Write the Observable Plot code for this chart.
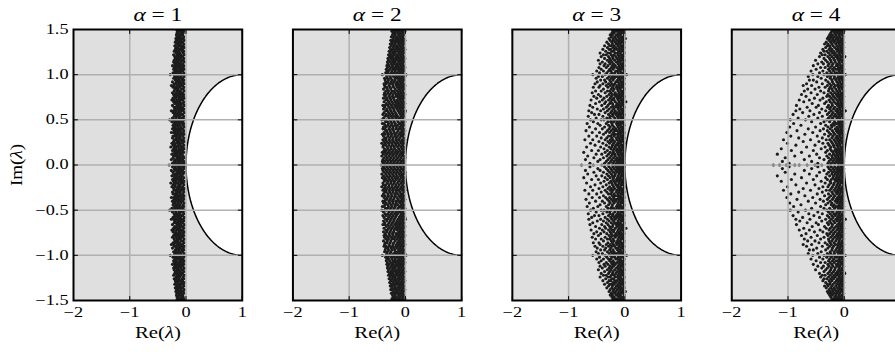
<!DOCTYPE html>
<html>
<head>
<meta charset="utf-8">
<script src="https://cdn.jsdelivr.net/npm/d3@7"></script>
<script src="https://cdn.jsdelivr.net/npm/@observablehq/plot@0.6"></script>
<style>
  html, body { margin: 0; padding: 0; background: #fff; overflow: hidden; }
  #chart svg { display: block; max-width: none; }
</style>
</head>
<body>
<div id="chart"></div>
<script>
// Panels, one per value of alpha
const alphas = [1, 2, 3, 4];
const xTicks = [-2, -1, 0, 1];
const yTicks = [-1.5, -1, -0.5, 0, 0.5, 1, 1.5];
const xGrid = [-1, 0];
const yGrid = [-1, -0.5, 0, 0.5, 1];

// Eigenvalues in the upper half plane, in hundredths, grouped by imaginary part:
// each row is [Im, Re, Re, ...]. The spectrum is real, so conjugates are added below.
const rowsAlpha1 = [
  [0,-3,-8,-12,-17,-22,-30],[2,-5,-10,-14,-19,-24,-1],[4,-4,-9,-13,-18,-21],[6,-6,-11,-15,-20,-26],
  [8,-3,-8,-12,-16,-23],[10,-5,-10,-14,-18,-22],[12,-7,-11,-16,-20,-25],[14,-4,-9,-13,-17,-21],
  [16,-6,-10,-15,-19,-24],[18,-3,-8,-12,-18,-22],[20,-5,-9,-14,-17,-21,-27],[22,-4,-10,-13,-19,-23],
  [24,-6,-11,-15,-20,-25],[26,-3,-7,-12,-16,-22],[28,-5,-9,-14,-18,-21],[30,-4,-10,-13,-17,-24],
  [32,-6,-11,-16,-20,-23],[34,-3,-8,-12,-15,-19],[36,-5,-9,-14,-18,-22,-26],[38,-4,-10,-13,-17,-21],
  [40,-6,-8,-12,-16,-20,-24],[42,-3,-9,-14,-19,-22],[44,-5,-11,-15,-18,-23],[46,-4,-7,-12,-17,-21],
  [48,-6,-10,-13,-16,-20,-25],[50,-3,-8,-14,-19,-22,-29],[52,-5,-9,-12,-18,-24],[54,-4,-11,-15,-17,-21],
  [56,-6,-8,-13,-16,-20],[58,-3,-10,-14,-19,-23],[60,-5,-9,-12,-17,-22,-26],[62,-4,-7,-11,-15,-20],
  [64,-6,-10,-14,-18,-21],[66,-3,-9,-13,-16,-24],[68,-5,-8,-12,-17,-20],[70,-4,-11,-15,-19,-22],
  [72,-6,-9,-13,-16,-21,-25],[74,-3,-8,-12,-18,-23],[76,-5,-10,-14,-17,-20],[78,-4,-7,-11,-15,-19,-22],
  [80,-6,-9,-13,-18,-24],[82,-3,-10,-12,-16,-21],[84,-5,-8,-14,-17,-20],[86,-4,-11,-15,-19,-23],
  [88,-6,-9,-12,-16,-22,-26],[90,-3,-8,-13,-18,-21],[92,-5,-10,-14,-17,-24],[94,-4,-7,-12,-15,-19],
  [96,-6,-11,-13,-18,-22],[98,-3,-9,-14,-16,-20],[100,-1,-5,-8,-12,-17,-21,-28],[102,-4,-10,-15,-19,-23],
  [104,-6,-9,-13,-16,-20],[106,-3,-7,-11,-17,-22],[108,-5,-10,-14,-18,-21],[110,-4,-8,-12,-15,-19,-24],
  [112,-6,-11,-13,-17,-20],[114,-3,-9,-14,-18,-22],[116,-5,-7,-12,-16,-21],[118,-4,-10,-15,-19],
  [120,-6,-8,-13,-17,-20],[122,-3,-9,-12,-16,-22],[124,-5,-11,-14,-18],[126,-4,-7,-13,-17,-21],
  [128,-6,-10,-12,-16,-19],[130,-3,-8,-14,-18],[132,-5,-9,-11,-15,-20],[134,-4,-10,-13,-17],
  [136,-6,-8,-12,-16,-19],[138,-3,-9,-14,-17],[140,-5,-7,-11,-15,-18],[142,-4,-10,-13,-16],
  [144,-6,-8,-12,-17],[146,-5,-9,-14,-16],[148,-4,-7,-11,-15],[150,-6,-10,-13,-17],
  [152,-5,-8,-12,-15],[154,-4,-9,-11,-14]
];

const rowsAlpha2 = [
  [0,-1,-6,-12,-18,-24,-30,-36,-43],[2,-3,-9,-15,-21,-27,-33,-39],[4,-2,-7,-13,-19,-25,-31,-37,-41],
  [6,-4,-10,-16,-22,-28,-34,-40],[8,-1,-8,-14,-20,-26,-32,-38],[10,-3,-6,-11,-17,-23,-29,-35,-42],
  [12,-5,-9,-15,-21,-27,-33,-39],[14,-2,-7,-13,-18,-24,-30,-36,-41],[16,-4,-10,-16,-22,-28,-34,-38],
  [18,-1,-6,-12,-19,-25,-31,-37],[20,-3,-8,-14,-20,-26,-32,-40],[22,-5,-11,-17,-23,-29,-35,-39],
  [24,-2,-7,-13,-18,-24,-30,-36,-42],[26,-4,-9,-15,-21,-27,-33,-38],[28,-1,-6,-12,-17,-23,-29,-35,-40],
  [30,-3,-10,-16,-22,-28,-34,-37],[32,-5,-8,-14,-19,-25,-31,-39],[34,-2,-7,-11,-18,-24,-30,-36,-41],
  [36,-4,-9,-15,-20,-26,-32,-38],[38,-1,-6,-13,-21,-27,-33,-35],[40,-3,-8,-12,-17,-23,-29,-37,-40],
  [42,-5,-10,-16,-22,-28,-34,-39],[44,-2,-7,-14,-19,-25,-31,-36],[46,-4,-9,-11,-18,-24,-30,-38,-41],
  [48,-1,-6,-13,-20,-26,-32,-35],[50,-3,-8,-15,-21,-27,-33,-37,-42],[52,-5,-10,-12,-17,-23,-29,-39],
  [54,-2,-7,-14,-19,-25,-31,-36],[56,-4,-9,-16,-22,-28,-34,-40],[58,-1,-6,-11,-18,-24,-30,-38],
  [60,0,-3,-8,-13,-20,-26,-32,-35],[62,-5,-10,-15,-21,-27,-33,-39],[64,-2,-7,-12,-17,-23,-29,-37],
  [66,-4,-9,-14,-19,-25,-31,-36,-40],[68,-1,-6,-11,-16,-22,-28,-34],[70,-3,-8,-13,-18,-24,-30,-38],
  [72,-5,-10,-15,-20,-26,-32,-35],[74,-2,-7,-12,-21,-27,-33,-39],[76,-4,-9,-14,-17,-23,-29,-36],
  [78,-1,-6,-11,-16,-22,-28,-34,-38],[80,-3,-8,-13,-19,-25,-31,-37],[82,-5,-10,-15,-20,-24,-30,-35],
  [84,-2,-7,-12,-18,-26,-32,-39],[86,-4,-9,-14,-21,-27,-33,-36],[88,-1,-6,-11,-16,-22,-29,-37],
  [90,-3,-8,-13,-17,-23,-28,-34,-38],[92,-5,-10,-15,-20,-25,-31,-35],[94,-2,-7,-12,-19,-24,-30,-36],
  [96,-4,-9,-14,-18,-26,-32,-37],[98,-1,-6,-11,-16,-21,-27,-33],[100,1,-3,-8,-13,-17,-23,-29,-34,-41],
  [102,-5,-10,-15,-20,-25,-31,-35],[104,-2,-7,-12,-18,-24,-30,-33],[106,-4,-9,-14,-19,-22,-28,-34],
  [108,-1,-6,-11,-16,-21,-26,-32],[110,-3,-8,-13,-17,-23,-29,-33],[112,-5,-10,-15,-20,-25,-31],
  [114,-2,-7,-12,-18,-22,-27,-32],[116,-4,-9,-14,-19,-24,-30],[118,-1,-6,-11,-16,-21,-26,-31],
  [120,-3,-8,-13,-17,-23,-28],[122,-5,-10,-15,-20,-25,-30],[124,-2,-7,-12,-18,-22,-27],
  [126,-4,-9,-14,-19,-24,-29],[128,-1,-6,-11,-16,-21,-26],[130,-3,-8,-13,-17,-22,-28],
  [132,-5,-10,-15,-20,-25],[134,-2,-7,-12,-18,-23,-27],[136,-4,-9,-14,-19,-24],
  [138,-1,-6,-11,-16,-21,-26],[140,-3,-8,-13,-17,-22],[142,-5,-10,-15,-20,-25],
  [144,-2,-7,-12,-18,-23],[146,-4,-9,-14,-19,-22],[148,-1,-6,-11,-16,-21,-24],
  [150,-3,-8,-13,-17,-22],[152,-5,-10,-15,-20,-23],[154,-2,-7,-12,-18,-21]
];

const rowsAlpha3 = [
  [0,-2,-7,-12,-17,-22,-30,-41,-56,-77],[2,-1,-5,-10,-15,-21,-28,-36,-62],[4,-3,-8,-13,-19,-25,-33,-48],
  [6,-2,-6,-11,-16,-23,-30,-44,-70],[8,-4,-9,-14,-20,-27,-38,-55],[10,-1,-5,-10,-17,-24,-32,-66],
  [12,-3,-7,-12,-18,-22,-29,-41,-51],[14,-2,-8,-13,-20,-26,-35,-73],[16,-1,-6,-11,-15,-21,-31,-47,-59],
  [18,-4,-9,-14,-19,-25,-37],[20,-2,-5,-10,-17,-23,-28,-43,-68],[22,-3,-7,-12,-16,-22,-33,-53],
  [24,-1,-8,-13,-20,-27,-39,-61],[26,-2,-6,-11,-18,-24,-30,-46],[28,-4,-9,-14,-21,-26,-35,-57,-71],
  [30,-1,-5,-10,-15,-23,-32,-42],[32,-3,-7,-12,-19,-25,-29,-50,-64],[34,-2,-8,-13,-17,-22,-38],
  [36,-1,-6,-11,-20,-27,-34,-45,-58],[38,-4,-9,-14,-18,-24,-31,-69],[40,-2,-5,-10,-16,-21,-28,-40,-52],
  [42,-3,-7,-12,-19,-26,-36,-63],[44,-1,-8,-13,-22,-29,-44],[46,-2,-6,-11,-15,-23,-33,-48,-67],
  [48,-4,-9,-14,-20,-25,-30,-56],[50,-1,-5,-10,-17,-24,-37,-42,-61],[52,-3,-7,-12,-18,-27,-32,-51],
  [54,-2,-8,-13,-21,-26,-39,-65],[56,-1,-6,-11,-16,-22,-29,-46,-54],[58,-4,-9,-14,-19,-25,-35,-59],
  [60,-2,-5,-10,-17,-23,-31,-43,-64],[62,-3,-7,-12,-20,-28,-38,-49],[64,-1,-8,-13,-18,-24,-33,-57],
  [66,-2,-6,-11,-15,-21,-30,-41,-62],[68,-4,-9,-14,-22,-27,-36,-52],[70,2,-1,-5,-10,-17,-25,-34,-45],
  [72,-3,-7,-12,-19,-23,-29,-40,-60],[74,-2,-8,-13,-20,-26,-37,-50],[76,-1,-6,-11,-16,-24,-32,-43,-55],
  [78,-4,-9,-14,-18,-22,-28,-47],[80,-2,-5,-10,-17,-25,-35,-58],[82,-3,-7,-12,-21,-27,-31,-42,-52],
  [84,-1,-8,-13,-19,-24,-38],[86,-2,-6,-11,-15,-22,-30,-46,-56],[88,-4,-9,-14,-20,-26,-33,-44],
  [90,-1,-5,-10,-18,-23,-29,-39,-53],[92,-3,-7,-12,-16,-25,-34,-49],[94,-2,-8,-13,-21,-27,-36,-43],
  [96,-1,-6,-11,-19,-24,-31,-51],[98,-4,-9,-14,-17,-22,-28,-40,-47],[100,3,-2,-5,-10,-20,-26,-35,-57],
  [102,-3,-7,-12,-18,-23,-32,-45],[104,-1,-8,-13,-16,-25,-29,-38,-50],[106,-2,-6,-11,-21,-27,-42],
  [108,-4,-9,-14,-19,-24,-33,-46],[110,-1,-5,-10,-17,-22,-30,-37],[112,-3,-7,-12,-20,-26,-35,-44],
  [114,-2,-8,-13,-15,-23,-28,-40],[116,-1,-6,-11,-18,-25,-31,-47],[118,-4,-9,-14,-21,-27,-36],
  [120,-2,-5,-10,-16,-22,-29,-42],[122,-3,-7,-12,-19,-24,-33,-38],[124,-1,-8,-13,-17,-26,-30,-44],
  [126,-2,-6,-11,-20,-23,-34],[128,-4,-9,-14,-18,-25,-28,-39],[130,-1,-5,-10,-16,-21,-31],
  [132,-3,-7,-12,-19,-24,-27,-36],[134,-2,-8,-13,-15,-22,-29],[136,-1,-6,-11,-17,-23,-32],
  [138,-4,-9,-14,-20,-26],[140,1,-2,-5,-10,-16,-21,-28],[142,-3,-7,-12,-18,-24],
  [144,-1,-8,-13,-15,-22,-26],[146,-2,-6,-11,-19,-23],[148,-4,-9,-14,-17,-21],
  [150,-1,-5,-10,-16,-22],[152,-3,-7,-12,-18,-20],[154,-2,-8,-13,-15]
];

const rowsAlpha4 = [
  [0,-1,-5,-10,-25,-40,-52,-66,-80,-88,-103,-115,-126],[2,-2,-6,-11,-17,-23,-29,-47,-98],
  [4,-1,-4,-9,-14,-20,-27,-58,-110],[6,-3,-7,-12,-18,-24,-36,-71],[8,-2,-5,-10,-15,-21,-28,-44,-105],
  [10,-1,-6,-11,-16,-22,-31,-62,-88],[12,-3,-8,-13,-19,-26,-49,-119],[14,-2,-4,-9,-14,-20,-33,-76],
  [16,-1,-7,-12,-17,-23,-30,-55,-94],[18,-3,-5,-10,-15,-25,-41,-112],[20,-2,-6,-11,-18,-24,-34,-67],
  [22,-1,-8,-13,-19,-27,-52,-86],[24,-4,-9,-14,-21,-29,-38,-101],[26,-2,-5,-10,-16,-23,-45,-73],
  [28,-1,-7,-12,-18,-26,-32,-60,-108],[30,-3,-6,-11,-15,-22,-39,-81],[32,-2,-8,-13,-20,-28,-48,-95],
  [34,-1,-4,-9,-17,-24,-35,-70],[36,-3,-7,-12,-19,-27,-56,-102],[38,-2,-5,-10,-14,-21,-30,-43,-84],
  [40,-1,-6,-11,-16,-25,-37,-64],[42,-3,-8,-13,-22,-29,-51,-97],[44,-2,-4,-9,-18,-23,-33,-77],
  [46,-1,-7,-12,-15,-20,-42,-90],[48,-3,-5,-10,-17,-26,-36,-58],[50,-2,-6,-11,-19,-24,-31,-69,-96],
  [52,-1,-8,-13,-21,-28,-47,-82],[54,-4,-9,-14,-18,-25,-39,-63],[56,-2,-5,-10,-16,-22,-30,-54,-91],
  [58,-1,-7,-12,-20,-27,-44,-74],[60,2,-3,-6,-11,-15,-23,-33,-61,-86],[62,-2,-8,-13,-19,-26,-40,-79],
  [64,-1,-4,-9,-17,-24,-30,-50,-66],[66,-3,-7,-12,-21,-28,-46,-85],[68,-2,-5,-10,-15,-22,-35,-57],
  [70,-1,-6,-11,-18,-25,-32,-72],[72,-3,-8,-13,-20,-27,-43,-62,-80],[74,-2,-4,-9,-16,-23,-38,-53],
  [76,-1,-7,-12,-19,-26,-31,-68],[78,-3,-5,-10,-14,-21,-29,-48,-76],[80,-2,-6,-11,-17,-24,-36,-59],
  [82,-1,-8,-13,-20,-28,-42,-71],[84,-4,-9,-15,-22,-27,-52,-65],[86,-2,-5,-10,-18,-25,-34,-45],
  [88,-1,-7,-12,-16,-23,-30,-58,-73],[90,-3,-6,-11,-19,-26,-39,-67],[92,-2,-8,-13,-21,-29,-49],
  [94,-1,-4,-9,-15,-22,-33,-55,-62],[96,-3,-7,-12,-18,-25,-41],[98,-2,-5,-10,-17,-24,-30,-47,-64],
  [100,2,-1,-6,-11,-20,-27,-36,-56],[102,-3,-8,-13,-16,-23,-31,-44],[104,-2,-4,-9,-19,-26,-38,-59],
  [106,-1,-7,-12,-15,-21,-28,-50],[108,-3,-5,-10,-18,-25,-34,-42],[110,-2,-6,-11,-14,-22,-29,-55],
  [112,-1,-8,-13,-20,-27,-37,-47],[114,-4,-9,-16,-23,-30,-40],[116,-2,-5,-10,-17,-24,-33,-51],
  [118,-1,-7,-12,-19,-26,-36],[120,1,-3,-6,-11,-15,-22,-29,-44],[122,-2,-8,-13,-18,-25,-34,-39],
  [124,-1,-4,-9,-16,-21,-28,-42],[126,-3,-7,-12,-19,-24,-31,-36],[128,-2,-5,-10,-14,-22,-27,-38],
  [130,-1,-6,-11,-17,-25,-33],[132,-3,-8,-13,-20,-26,-30],[134,-2,-4,-9,-15,-22,-29,-35],
  [136,-1,-7,-12,-18,-24,-32],[138,-3,-5,-10,-16,-21,-27],[140,-2,-6,-11,-14,-20,-25,-30],
  [142,-1,-8,-13,-18,-23,-28],[144,-3,-4,-9,-15,-21,-26],[146,-2,-7,-12,-17,-24],
  [148,-1,-5,-10,-14,-19,-22],[150,-3,-6,-11,-16,-21],[152,-2,-8,-13,-18,-20],[154,-1,-4,-9,-14,-19]
];

// Flatten into one table, adding the conjugate of every non-real eigenvalue
const points = [];
[rowsAlpha1, rowsAlpha2, rowsAlpha3, rowsAlpha4].forEach((rows, i) => {
  for (const [im, ...res] of rows) {
    for (const re of res) {
      points.push({alpha: alphas[i], re: re / 100, im: im / 100});
      if (im !== 0) points.push({alpha: alphas[i], re: re / 100, im: -im / 100});
    }
  }
});

// Left half of the circle |λ − 1| = 1 (edge of the white region)
const boundary = d3.range(-90, 90.01, 1.5).map(deg => {
  const t = deg * Math.PI / 180;
  return {re: 1 - Math.cos(t), im: Math.sin(t)};
});

// x tick labels for every panel; the last panel's "1" falls past the figure's right edge
const xLabels = alphas
  .flatMap(alpha => xTicks.map(t => ({alpha, t})))
  .filter(d => !(d.alpha === alphas[alphas.length - 1] && d.t === xTicks[xTicks.length - 1]));

// Short inward-pointing tick marks
const tickShape = {draw(context, l) { context.moveTo(0, 0); context.lineTo(0, -l); }};
const tickStyle = {length: 4, anchor: "start", shape: tickShape, stroke: "black", strokeWidth: 1};

const serif = "'Liberation Serif', 'Times New Roman', serif";

const chart = Plot.plot({
  width: 895,
  height: 355,
  marginLeft: 73,
  marginRight: -5,
  marginTop: 29,
  marginBottom: 55,
  style: {fontFamily: serif, background: "white", color: "black", overflow: "visible"},
  fx: {domain: alphas, paddingInner: 0.231, paddingOuter: 0, round: false, axis: null},
  x: {domain: [-2, 1], axis: null},
  y: {domain: [-1.5, 1.5]},
  marks: [
    Plot.frame({fill: "#dfdfdf", stroke: null}),
    Plot.areaX(boundary, {y: "im", x1: "re", x2: 1, fill: "white"}),
    Plot.dot(points, {fx: "alpha", x: "re", y: "im", r: 1.55, fill: "#1c1c1c", stroke: null, clip: true}),
    Plot.line(boundary, {x: "re", y: "im", stroke: "black", strokeWidth: 1.5}),
    Plot.ruleX(xGrid, {stroke: "#b0b0b0", strokeWidth: 1.5}),
    Plot.ruleY(yGrid, {stroke: "#b0b0b0", strokeWidth: 1.5}),
    Plot.vector(yTicks, {x: -2, y: d => d, rotate: 90, ...tickStyle}),
    Plot.vector(yTicks, {x: 1, y: d => d, rotate: 270, ...tickStyle}),
    Plot.vector(xTicks, {x: d => d, y: -1.5, rotate: 0, ...tickStyle}),
    Plot.vector(xTicks, {x: d => d, y: 1.5, rotate: 180, ...tickStyle}),
    Plot.frame({stroke: "black", strokeWidth: 2}),
    Plot.axisY(yTicks, {tickSize: 0, tickPadding: 5, tickFormat: d3.format(".1f"), label: null, fontSize: 14}),
    Plot.text(xLabels, {fx: "alpha", x: "t", text: d => d3.format("d")(d.t), frameAnchor: "bottom", textAnchor: "middle", lineAnchor: "top", dy: 7, fontSize: 14}),
    Plot.text(alphas, {fx: d => d, text: d => `α = ${d}`, frameAnchor: "top", textAnchor: "middle", lineAnchor: "bottom", dy: -9, fontSize: 18}),
    Plot.text(alphas, {fx: d => d, text: () => "Re(λ)", frameAnchor: "bottom", textAnchor: "middle", lineAnchor: "bottom", dy: 37, fontSize: 16}),
    Plot.text([alphas[0]], {fx: d => d, text: () => "Im(λ)", frameAnchor: "left", textAnchor: "middle", lineAnchor: "middle", rotate: -90, dx: -57, fontSize: 17})
  ]
});

document.getElementById("chart").append(chart);

// Set the Greek symbols in italics, as in math notation
const svg = d3.select(chart);
svg.selectAll("text").each(function () {
  const m = this.textContent.match(/^(.*?)([αλ])(.*)$/);
  if (!m) return;
  const t = d3.select(this).text(null);
  t.append("tspan").text(m[1]);
  t.append("tspan").attr("font-style", "italic").text(m[2]);
  t.append("tspan").text(m[3]);
});

// Widen the serif glyphs horizontally
svg.selectAll("text").each(function () {
  const rotated = (this.getAttribute("transform") || "").includes("rotate");
  const k = rotated ? 1.12 : 1.3;
  const len = this.getComputedTextLength();
  if (len > 0) {
    this.setAttribute("textLength", (len * k).toFixed(2));
    this.setAttribute("lengthAdjust", "spacingAndGlyphs");
  }
});
</script>
</body>
</html>
